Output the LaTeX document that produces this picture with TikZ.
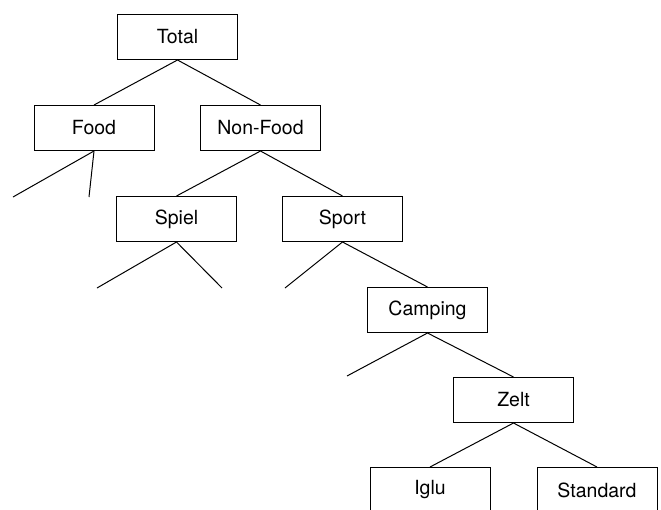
\documentclass[tikz,border=0pt]{standalone}
\usepackage{fontspec}
\setmainfont{TeX Gyre Heros}

\begin{document}
\begin{tikzpicture}[x=1pt,y=-1pt,line width=1pt,
	box/.style={draw, rectangle, minimum width=120pt, minimum height=45pt, inner sep=0pt, font=\fontsize{19.5}{23}\selectfont}]
	\clip (0,0) rectangle (661,509);

	\node [box] (total) at (177.5,37) {Total};
	\node [box] (food) at (94,128) {Food};
	\node [box] (nonfood) at (260.5,128) {Non-Food};
	\node [box] (spiel) at (176.5,219) {Spiel};
	\node [box] (sport) at (342.5,219) {Sport};
	\node [box] (camping) at (427.5,310) {Camping};
	\node [box] (zelt) at (513.5,400) {Zelt};
	\node [box] (iglu) at (430,490) {Iglu};
	\node [box] (standard) at (597,490) {Standard};

	\coordinate (food-a) at (13,197);
	\coordinate (food-b) at (89,197);
	\coordinate (spiel-a) at (97,288);
	\coordinate (spiel-b) at (222,288);
	\coordinate (sport-a) at (285,288);
	\coordinate (camping-a) at (347,376);

	\draw (total.south) -- (food.north);
	\draw (total.south) -- (nonfood.north);
	\draw (food.south) -- (food-a);
	\draw (food.south) -- (food-b);
	\draw (nonfood.south) -- (spiel.north);
	\draw (nonfood.south) -- (sport.north);
	\draw (spiel.south) -- (spiel-a);
	\draw (spiel.south) -- (spiel-b);
	\draw (sport.south) -- (sport-a);
	\draw (sport.south) -- (camping.north);
	\draw (camping.south) -- (camping-a);
	\draw (camping.south) -- (zelt.north);
	\draw (zelt.south) -- (iglu.north);
	\draw (zelt.south) -- (standard.north);
\end{tikzpicture}
\end{document}
